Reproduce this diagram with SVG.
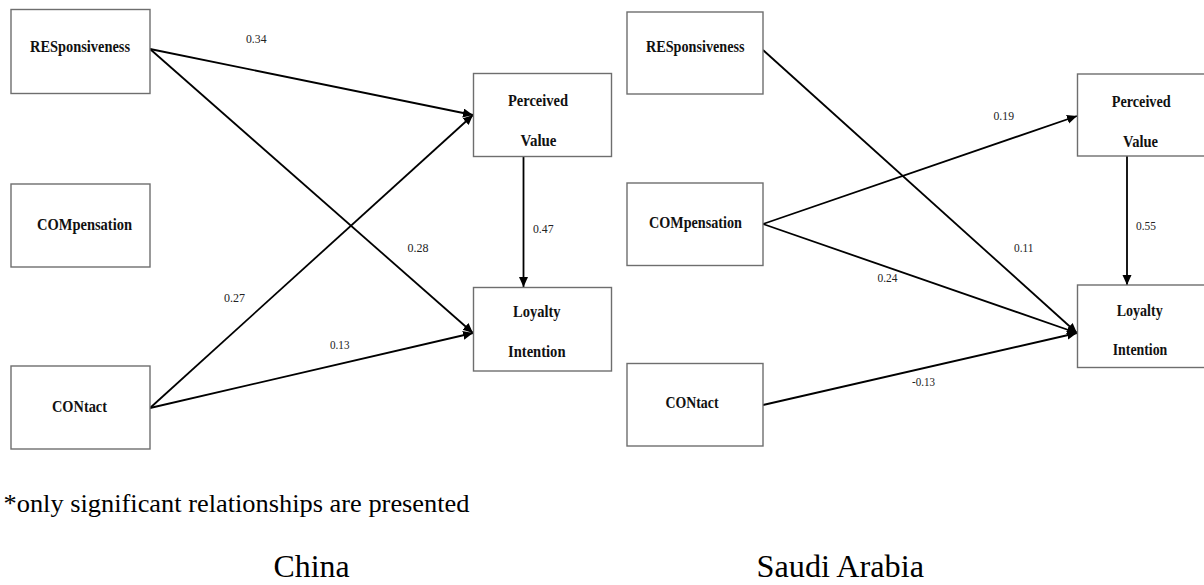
<svg xmlns="http://www.w3.org/2000/svg" width="1204" height="585" viewBox="0 0 1204 585">
<style>
.box{fill:#fff;stroke:#6e6e6e;stroke-width:1.4}
.lbl{font-weight:bold;font-size:17px;fill:#111}
.num{font-size:12px;fill:#222}
.edge{stroke:#000;stroke-width:1.8;fill:none;marker-end:url(#ah)}
.big{fill:#000}
</style>
<defs>
<marker id="ah" markerUnits="userSpaceOnUse" markerWidth="11" markerHeight="10" refX="10" refY="4.5" orient="auto">
<path d="M0,0 L10,4.5 L0,9 z" fill="#000"/>
</marker>
</defs>
<rect width="1204" height="585" fill="#fff"/>

<g id="connectors">
<line class="edge" x1="150" y1="49" x2="473" y2="115"/>
<line class="edge" x1="150" y1="49" x2="473" y2="333"/>
<line class="edge" x1="150" y1="408" x2="473" y2="115"/>
<line class="edge" x1="150" y1="408" x2="473" y2="333"/>
<line class="edge" x1="523.5" y1="157" x2="523.5" y2="287"/>
<line class="edge" x1="763" y1="50" x2="1077" y2="333"/>
<line class="edge" x1="763" y1="224" x2="1077" y2="116"/>
<line class="edge" x1="763" y1="224" x2="1077" y2="333"/>
<line class="edge" x1="763" y1="405" x2="1077" y2="333"/>
<line class="edge" x1="1127" y1="156" x2="1127" y2="285"/>
</g>

<g font-family="Liberation Serif, Times New Roman, Times, serif">
<g id="edge-labels">
<text class="num" x="246" y="42.5" textLength="20.5" lengthAdjust="spacingAndGlyphs">0.34</text>
<text class="num" x="407.5" y="252" textLength="21" lengthAdjust="spacingAndGlyphs">0.28</text>
<text class="num" x="533" y="233" textLength="20.5" lengthAdjust="spacingAndGlyphs">0.47</text>
<text class="num" x="224" y="301.5" textLength="21" lengthAdjust="spacingAndGlyphs">0.27</text>
<text class="num" x="330" y="349" textLength="19.5" lengthAdjust="spacingAndGlyphs">0.13</text>
<text class="num" x="993.5" y="120" textLength="20.5" lengthAdjust="spacingAndGlyphs">0.19</text>
<text class="num" x="1014" y="251.5" textLength="19.5" lengthAdjust="spacingAndGlyphs">0.11</text>
<text class="num" x="877.5" y="281.5" textLength="20" lengthAdjust="spacingAndGlyphs">0.24</text>
<text class="num" x="1136" y="230" textLength="20" lengthAdjust="spacingAndGlyphs">0.55</text>
<text class="num" x="912" y="386" textLength="23" lengthAdjust="spacingAndGlyphs">-0.13</text>
</g>

<g id="china-responsiveness">
<rect class="box" x="11" y="9.5" width="139" height="84"/>
<text class="lbl" x="30" y="52" textLength="100" lengthAdjust="spacingAndGlyphs">RESponsiveness</text>
</g>
<g id="china-compensation">
<rect class="box" x="11" y="184" width="139" height="83"/>
<text class="lbl" x="37" y="230" textLength="95" lengthAdjust="spacingAndGlyphs">COMpensation</text>
</g>
<g id="china-contact">
<rect class="box" x="11" y="366" width="139" height="83"/>
<text class="lbl" x="52" y="411.5" textLength="55" lengthAdjust="spacingAndGlyphs">CONtact</text>
</g>
<g id="china-perceived-value">
<rect class="box" x="473.5" y="73.5" width="138" height="83"/>
<text class="lbl" x="508" y="105.5" textLength="60" lengthAdjust="spacingAndGlyphs">Perceived</text>
<text class="lbl" x="520.5" y="146" textLength="36" lengthAdjust="spacingAndGlyphs">Value</text>
</g>
<g id="china-loyalty-intention">
<rect class="box" x="473.5" y="287.5" width="138" height="83.5"/>
<text class="lbl" x="513" y="316.5" textLength="47.5" lengthAdjust="spacingAndGlyphs">Loyalty</text>
<text class="lbl" x="508" y="357" textLength="57.5" lengthAdjust="spacingAndGlyphs">Intention</text>
</g>

<g id="saudi-responsiveness">
<rect class="box" x="627" y="12" width="136" height="82"/>
<text class="lbl" x="646" y="52.3" textLength="98.5" lengthAdjust="spacingAndGlyphs">RESponsiveness</text>
</g>
<g id="saudi-compensation">
<rect class="box" x="627" y="183" width="136" height="82.5"/>
<text class="lbl" x="649" y="228.3" textLength="93" lengthAdjust="spacingAndGlyphs">COMpensation</text>
</g>
<g id="saudi-contact">
<rect class="box" x="627" y="363.5" width="136" height="82.5"/>
<text class="lbl" x="665.5" y="408.3" textLength="53" lengthAdjust="spacingAndGlyphs">CONtact</text>
</g>
<g id="saudi-perceived-value">
<rect class="box" x="1077.5" y="74" width="140" height="82"/>
<text class="lbl" x="1111.7" y="106.7" textLength="59" lengthAdjust="spacingAndGlyphs">Perceived</text>
<text class="lbl" x="1123" y="147.3" textLength="35" lengthAdjust="spacingAndGlyphs">Value</text>
</g>
<g id="saudi-loyalty-intention">
<rect class="box" x="1077.5" y="285" width="140" height="82.5"/>
<text class="lbl" x="1116.7" y="316" textLength="46" lengthAdjust="spacingAndGlyphs">Loyalty</text>
<text class="lbl" x="1112.7" y="355" textLength="54.6" lengthAdjust="spacingAndGlyphs">Intention</text>
</g>

<g id="captions">
<text class="big" x="3.5" y="511.5" font-size="26" textLength="466" lengthAdjust="spacingAndGlyphs">*only significant relationships are presented</text>
<text class="big" x="273.5" y="576.5" font-size="32" textLength="76" lengthAdjust="spacingAndGlyphs">China</text>
<text class="big" x="756.5" y="576.5" font-size="32" textLength="167.5" lengthAdjust="spacingAndGlyphs">Saudi Arabia</text>
</g>
</g>
</svg>
